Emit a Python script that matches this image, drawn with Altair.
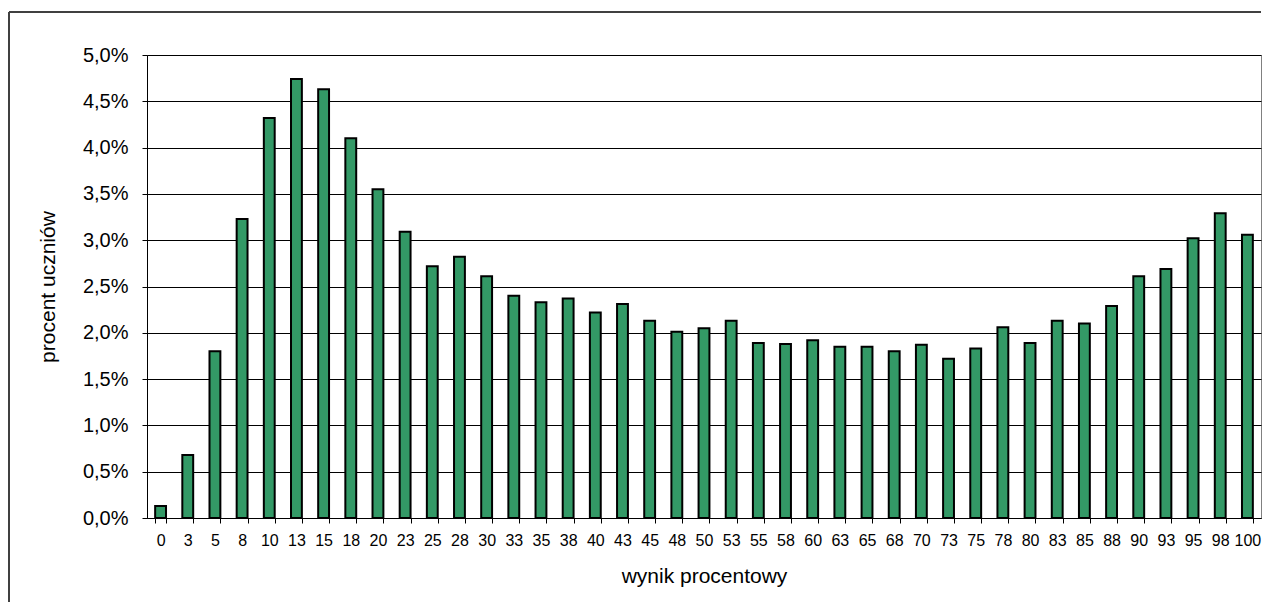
import altair as alt
import pandas as pd

categories = [0, 3, 5, 8, 10, 13, 15, 18, 20, 23, 25, 28, 30, 33, 35, 38, 40, 43, 45, 48,
              50, 53, 55, 58, 60, 63, 65, 68, 70, 73, 75, 78, 80, 83, 85, 88, 90, 93, 95, 98, 100]
values = [0.13, 0.68, 1.80, 3.23, 4.32, 4.74, 4.63, 4.10, 3.55, 3.09, 2.72, 2.82, 2.61, 2.40,
          2.33, 2.37, 2.22, 2.31, 2.13, 2.01, 2.05, 2.13, 1.89, 1.88, 1.92, 1.85, 1.85, 1.80,
          1.87, 1.72, 1.83, 2.06, 1.89, 2.13, 2.10, 2.29, 2.61, 2.69, 3.02, 3.29, 3.06]
y_ticks = [0, 0.5, 1.0, 1.5, 2.0, 2.5, 3.0, 3.5, 4.0, 4.5, 5.0]

df = pd.DataFrame({"wynik": [str(c) for c in categories], "procent": values})
order = [str(c) for c in categories]

FONT = "Liberation Sans"
W, H = 1114, 463

bars = alt.Chart(df).mark_bar(
    color="#339966", stroke="black", strokeWidth=2
).encode(
    x=alt.X("wynik:N", sort=order,
            scale=alt.Scale(paddingInner=0.6, paddingOuter=0.3),
            axis=alt.Axis(title="wynik procentowy", labelAngle=0, tickBand="extent",
                          tickSize=5, labelPadding=9, titlePadding=17,
                          labelFontSize=16, titleFontSize=21, titleFontWeight="normal",
                          domainColor="black", tickColor="black", labelColor="black",
                          titleColor="black", labelFont=FONT, titleFont=FONT, grid=False)),
    y=alt.Y("procent:Q", scale=alt.Scale(domain=[0, 5], nice=False),
            axis=alt.Axis(title="procent uczniów", values=y_ticks,
                          labelExpr="replace(format(datum.value, '.1f'), '.', ',') + '%'",
                          tickSize=5, labelPadding=14, titlePadding=24,
                          labelFontSize=20, titleFontSize=21, titleFontWeight="normal",
                          domainColor="black", tickColor="black", labelColor="black",
                          titleColor="black", labelFont=FONT, titleFont=FONT,
                          grid=True, gridColor="black", gridOpacity=1, gridWidth=1)),
)

frame_src = pd.DataFrame({"a": [0]})
frame_top = alt.Chart(frame_src).mark_rule(color="#404040", strokeWidth=2).encode(
    x=alt.value(-138), x2=alt.value(W), y=alt.value(-43)
)
frame_left = alt.Chart(frame_src).mark_rule(color="#404040", strokeWidth=2).encode(
    x=alt.value(-138), y=alt.value(-43), y2=alt.value(547)
)

chart = alt.layer(bars, frame_top, frame_left).properties(
    width=W, height=H,
    padding={"top": 3, "left": 0, "right": 0, "bottom": 0},
    background="white",
).configure_view(stroke="#808080", strokeWidth=1)

chart.save("out.html", embed_options={"renderer": "svg", "actions": False})
